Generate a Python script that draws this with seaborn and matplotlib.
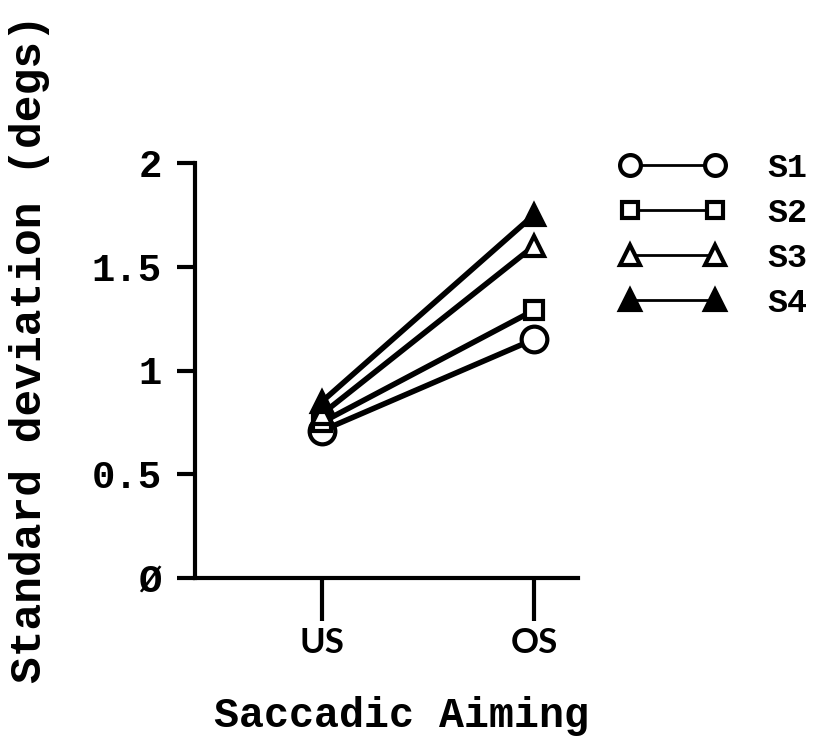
import matplotlib
matplotlib.use("Agg")
import matplotlib.pyplot as plt
import seaborn as sns
import pandas as pd

conditions = ["US", "OS"]
subjects = ["S1", "S2", "S3", "S4"]
s1 = [0.71, 1.15]
s2 = [0.75, 1.29]
s3 = [0.79, 1.60]
s4 = [0.85, 1.75]
y_ticks = [0, 0.5, 1, 1.5, 2]
y_tick_labels = ["Ø", "0.5", "1", "1.5", "2"]

values = {"S1": s1, "S2": s2, "S3": s3, "S4": s4}
rows = []
for s in subjects:
    for c, v in zip(conditions, values[s]):
        rows.append({"cond": c, "subject": s, "sd": v})
df = pd.DataFrame(rows)

sns.set_style("ticks")
plt.rcParams["font.family"] = ["Liberation Mono", "DejaVu Sans Mono"]
plt.rcParams["font.weight"] = "bold"
plt.rcParams["text.color"] = "black"
plt.rcParams["axes.labelcolor"] = "black"
plt.rcParams["xtick.color"] = "black"
plt.rcParams["ytick.color"] = "black"

fig = plt.figure(figsize=(8.16, 7.5), dpi=100)
ax = fig.add_axes([195/816, 1-578/750, (578-195)/816, (578-163)/750])

styles = {
    "S1": dict(marker="o", markersize=18.5, mfc="white", lms=15),
    "S2": dict(marker="s", markersize=13, mfc="white", lms=12),
    "S3": dict(marker="^", markersize=14.5, mfc="white", lms=14),
    "S4": dict(marker="^", markersize=15, mfc="black", lms=14),
}
for s in subjects:
    st = styles[s]
    sns.lineplot(data=df[df.subject == s], x="cond", y="sd", ax=ax,
                 color="black", linewidth=4, marker=st["marker"],
                 markersize=st["markersize"], markerfacecolor=st["mfc"],
                 markeredgecolor="black", markeredgewidth=3, label=s,
                 sort=False)

ax.set_xlim(-0.599, 1.208)
ax.set_ylim(0, 2)
ax.set_yticks(y_ticks)
ax.set_yticklabels(y_tick_labels)
ax.set_xticks([0, 1])
ax.set_xticklabels(conditions, family="Lato", fontweight="bold", fontsize=25)
ax.tick_params(axis="y", length=13, width=3, labelsize=28, pad=11, colors="black")
ax.tick_params(axis="x", length=31, width=3, pad=4, colors="black")
for sp in ["top", "right"]:
    ax.spines[sp].set_visible(False)
for sp in ["left", "bottom"]:
    ax.spines[sp].set_linewidth(3)
    ax.spines[sp].set_color("black")
    ax.spines[sp].set_capstyle("projecting")

ax.set_xlabel("Saccadic Aiming", fontsize=30, fontweight="bold")
ax.xaxis.set_label_coords(0.538, -0.284)
ax.set_ylabel("Standard deviation (degs)", fontsize=32, fontweight="bold")
ax.yaxis.set_label_coords(-0.379, 0.552)

leg = ax.legend(loc="upper left", bbox_to_anchor=(590/816, 1-123/750),
                bbox_transform=fig.transFigure, frameon=False, numpoints=2,
                handlelength=3.15, handletextpad=1.26, labelspacing=0.42,
                prop={"family": "Liberation Mono", "weight": "bold", "size": 24})
for line, s in zip(leg.get_lines(), subjects):
    line.set_linewidth(2)
    line.set_markersize(styles[s]["lms"])

fig.savefig("out.png", dpi=100, facecolor="white")
